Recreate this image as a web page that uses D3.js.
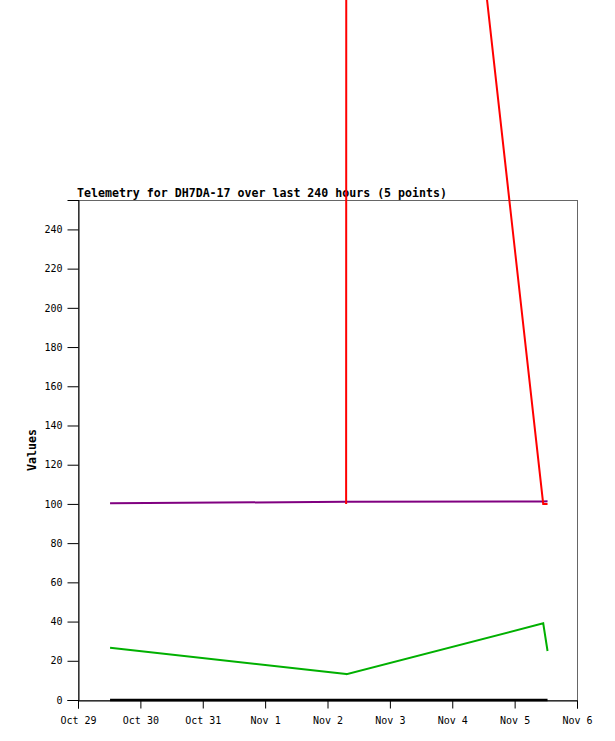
<!DOCTYPE html>
<html><head><meta charset="utf-8">
<script src="https://cdn.jsdelivr.net/npm/d3@7"></script>
<style>html,body{margin:0;padding:0;background:#fff;}svg{display:block;}</style>
</head><body>
<script>
// ---- data ----
const times = ["2023-10-29T12:20","2023-11-02T07:10","2023-11-02T07:20","2023-11-05T11:00","2023-11-05T12:40"];
const redValues    = [null, 100, 1000, 100, 100];
const purpleValues = [100.3, 101.1, 101.1, 101.2, 101.3];
const greenValues  = [26.6, 13.3, 13.2, 39.1, 25];
const blackValues  = [0, 0, 0, 0, 0];
const xTickLabels = ["Oct 29","Oct 30","Oct 31","Nov 1","Nov 2","Nov 3","Nov 4","Nov 5","Nov 6"];
const xTickDates  = ["2023-10-29","2023-10-30","2023-10-31","2023-11-01","2023-11-02","2023-11-03","2023-11-04","2023-11-05","2023-11-06"];
const yTicks = [0,20,40,60,80,100,120,140,160,180,200,220,240];
const title = "Telemetry for DH7DA-17 over last 240 hours (5 points)";

const W = 615, H = 741;
const m = {left:78, right:577, top:200, bottom:700};
const parse = d3.timeParse("%Y-%m-%dT%H:%M");
const parseD = d3.timeParse("%Y-%m-%d");
const tDates = times.map(parse);

const svg = d3.select("body").append("svg").attr("width",W).attr("height",H);
const x = d3.scaleTime().domain([parseD(xTickDates[0]), parseD(xTickDates[xTickDates.length-1])]).range([m.left, m.right]);
const y = d3.scaleLinear().domain([0,255]).range([m.bottom, m.top]);

const font = "'DejaVu Sans Mono', 'Liberation Mono', monospace";

// frame
svg.append("rect").attr("x",m.left+0.5).attr("y",m.top+0.5).attr("width",m.right-m.left).attr("height",m.bottom-m.top)
  .attr("fill","none").attr("stroke","#666").attr("stroke-width",1);

// axes
const yAxis = d3.axisLeft(y).tickValues(yTicks).tickSize(11).tickPadding(5).tickFormat(d3.format("d"));
const gy = svg.append("g").attr("transform",`translate(${m.left+0.5},0)`).call(yAxis);
gy.select(".domain").attr("stroke","#000");
gy.selectAll("text").attr("font-family",font).attr("font-size","10px").attr("fill","#000");

const xAxis = d3.axisBottom(x).tickValues(xTickDates.map(parseD)).tickSize(8).tickPadding(8)
  .tickFormat((d,i)=>xTickLabels[i]);
const gx = svg.append("g").attr("transform",`translate(0,${m.bottom+0.5})`).call(xAxis);
gx.select(".domain").attr("stroke","#000");
gx.selectAll("text").attr("font-family",font).attr("font-size","10px").attr("fill","#000");

// title
svg.append("text").attr("x",m.left-1).attr("y",197).text(title)
  .attr("font-family",font).attr("font-size","11.6px").attr("font-weight","bold").attr("fill","#000");

// y label
svg.append("text").attr("transform",`translate(36,${(m.top+m.bottom)/2}) rotate(-90)`).attr("text-anchor","middle")
  .text("Values").attr("font-family",font).attr("font-size","11.6px").attr("font-weight","bold").attr("fill","#000");

// lines
const line = d3.line().defined(d=>d[1]!=null).x(d=>x(d[0])).y(d=>y(d[1]));
function draw(vals,color,w){
  svg.append("path").datum(tDates.map((t,i)=>[t,vals[i]])).attr("d",line)
    .attr("fill","none").attr("stroke",color).attr("stroke-width",w).attr("stroke-linejoin","miter");
}
draw(blackValues,"#000",2.5);
draw(greenValues,"#00b000",2);
draw(purpleValues,"#800080",2);
draw(redValues,"#ff0000",2);
</script>
</body></html>
